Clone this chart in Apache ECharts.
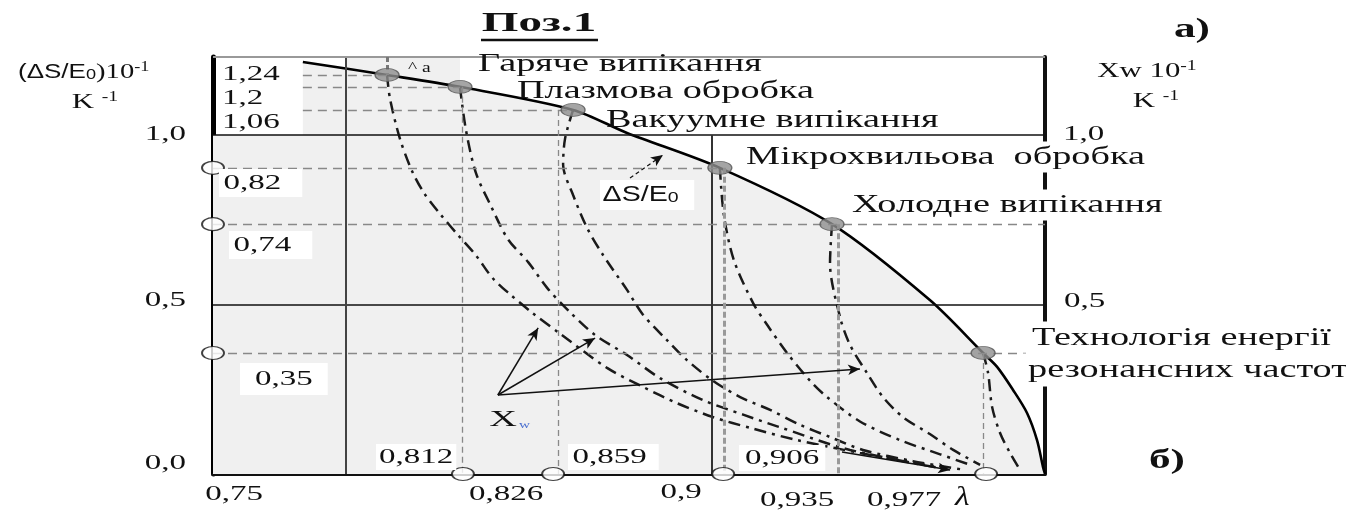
<!DOCTYPE html>
<html>
<head>
<meta charset="utf-8">
<script src="https://cdn.jsdelivr.net/npm/echarts@6.0.0/dist/echarts.min.js"></script>
<style>
  html, body { margin: 0; padding: 0; background: #fff; }
  #chart { width: 1346px; height: 513px; }
</style>
</head>
<body>
<div id="chart"></div>
<script>
// technologies and their points on the ΔS/E0 curve
const processNames = ['Гаряче випікання', 'Плазмова обробка', 'Вакуумне випікання',
  'Мікрохвильова  обробка', 'Холодне випікання', 'Технологія енергії', 'резонансних частот'];
const processLambda = [0.8023, 0.8242, 0.8582, 0.9023, 0.9360, 0.9814];
const processDS = [1.177, 1.142, 1.074, 0.903, 0.737, 0.357];
const processDSLabels = ['1,24', '1,2', '1,06', '0,82', '0,74', '0,35'];

// projections down to the λ axis and the circles on it
const projLambda = [0.8248, 0.8537, 0.9035, 0.9378, 0.9814];
const axisCircleLambda = [0.8251, 0.8522, 0.9033, 0.9823];
const lambdaInnerLabels = ['0,812', '0,859', '0,906'];
const lambdaAxisLabels = ['0,75', '0,826', '0,9', '0,935', '0,977'];
const leftAxisLabels = ['1,0', '0,5', '0,0'];
const rightAxisLabels = ['1,0', '0,5'];

// ΔS/E0 curve
const dsLambda = [0.7770, 0.8023, 0.8242, 0.8582, 0.8744, 0.9023, 0.9360, 0.9654, 0.9814, 0.9856, 0.9904, 0.9946, 0.9976, 0.9994, 1.0];
const dsValue  = [1.215, 1.177, 1.142, 1.074, 1.006, 0.903, 0.737, 0.513, 0.357, 0.316, 0.248, 0.180, 0.100, 0.021, 0.0];

// Xw curves from every technology point
const xwHot = [[0.8023, 1.177], [0.8032, 1.106], [0.8062, 0.988], [0.8098, 0.894], [0.8134, 0.829],
  [0.8185, 0.764], [0.8236, 0.705], [0.8290, 0.645], [0.8340, 0.578], [0.8395, 0.528], [0.8460, 0.475],
  [0.8540, 0.416], [0.8684, 0.313], [0.8792, 0.257], [0.8894, 0.209], [0.9002, 0.168], [0.9114, 0.136],
  [0.9255, 0.100], [0.9444, 0.062], [0.9694, 0.018]];
const xwPlasma = [[0.8242, 1.142], [0.8260, 1.015], [0.8290, 0.888], [0.8335, 0.791], [0.8386, 0.693],
  [0.8447, 0.625], [0.8504, 0.549], [0.8570, 0.480], [0.8648, 0.410], [0.8744, 0.351], [0.8843, 0.283],
  [0.8972, 0.218], [0.9093, 0.175], [0.9200, 0.139], [0.9414, 0.071], [0.9715, 0.012]];
const xwVacuum = [[0.8582, 1.074], [0.8558, 0.990], [0.8552, 0.912], [0.8582, 0.823], [0.8624, 0.726],
  [0.8672, 0.646], [0.8744, 0.543], [0.8792, 0.470], [0.8864, 0.395], [0.8924, 0.336], [0.9002, 0.275],
  [0.9084, 0.227], [0.9174, 0.189], [0.9264, 0.145], [0.9354, 0.109], [0.9453, 0.071], [0.9603, 0.038],
  [0.9760, 0.012]];
const xwMicro = [[0.9023, 0.903], [0.9035, 0.764], [0.9065, 0.631], [0.9123, 0.504], [0.9165, 0.440],
  [0.9225, 0.357], [0.9294, 0.275], [0.9345, 0.227], [0.9444, 0.155], [0.9564, 0.100], [0.9685, 0.058],
  [0.9775, 0.027]];
const xwCold = [[0.9360, 0.737], [0.9354, 0.622], [0.9384, 0.463], [0.9414, 0.381], [0.9465, 0.298],
  [0.9513, 0.227], [0.9573, 0.168], [0.9654, 0.118], [0.9724, 0.071], [0.9805, 0.027]];
const xwTech = [[0.9814, 0.357], [0.9829, 0.298], [0.9841, 0.198], [0.9865, 0.121], [0.9895, 0.062], [0.9925, 0.012]];

// annotation arrows [from, to]
const xwArrowFrom = [0.8356, 0.233];
const xwArrowTips = [[0.8477, 0.431], [0.8648, 0.401]];
const xwArrowKink = [0.8984, 0.277];
const xwArrowLongTip = [0.9444, 0.310];
const dsArrow = [[0.8753, 0.873], [0.8852, 0.941]];
const coldArrow = [[0.9390, 0.065], [0.9715, 0.012]];

const X_MIN = 0.75, X_MAX = 1.0, Y_MAX = 1.23;
const SERIF = '"Liberation Serif", "Times New Roman", serif';
const SANS = '"Liberation Sans", Arial, sans-serif';

const chart = echarts.init(document.getElementById('chart'));

const seg = (a, b, style, arrow) => [
  { coord: a, symbol: 'none' },
  { coord: b, symbol: arrow ? 'arrow' : 'none', symbolSize: arrow ? [8, 12] : 0, lineStyle: style }
];

const solid = { color: '#111', width: 1.5, type: 'solid' };
const levelDash = { color: '#888', width: 1.3, type: [9, 6] };
const projDash = { color: '#888', width: 1.3, type: [6, 4] };
const arrowStyle = { color: '#111', width: 1.5, type: 'solid' };

const refLines = [
  seg([X_MIN, 1.0], [X_MAX, 1.0], solid),
  seg([X_MIN, 0.5], [X_MAX, 0.5], solid),
  seg([0.79, 0], [0.79, Y_MAX], { color: '#444', width: 2, type: 'solid' }),
  seg([0.9, 0], [0.9, 1.0], { color: '#333', width: 2, type: 'solid' }),
  seg([X_MIN, Y_MAX], [X_MAX, Y_MAX], { color: '#999', width: 2, type: 'solid' })
];
// horizontal level lines
processDS.forEach((v, i) => {
  const start = i < 3 ? dsLambda[0] : X_MIN;
  const end = (i === 4 || i === 5) ? X_MAX : processLambda[i];
  refLines.push(seg([start, v], [end, v], levelDash));
});
// vertical projections
projLambda.forEach((x, i) => {
  const style = (i === 2 || i === 3) ? { color: '#999', width: 3, type: [6, 3] } : projDash;
  refLines.push(seg([x, processDS[i + 1]], [x, 0], style));
});
refLines.push(seg([processLambda[0], Y_MAX], [processLambda[0], processDS[0]], { color: '#777', width: 3, type: [5, 3] }));
// arrows
xwArrowTips.forEach(t => refLines.push(seg(xwArrowFrom, t, arrowStyle, true)));
refLines.push(seg(xwArrowFrom, xwArrowKink, arrowStyle));
refLines.push(seg(xwArrowKink, xwArrowLongTip, arrowStyle, true));
refLines.push(seg(dsArrow[0], dsArrow[1], { color: '#111', width: 1.2, type: [4, 3] }, true));
refLines.push(seg(coldArrow[0], coldArrow[1], arrowStyle, true));

const dsData = dsLambda.map((x, i) => [x, dsValue[i]]);
const xwStyle = { color: '#1a1a1a', width: 2.5, type: [12, 6, 3, 6] };
const xwSeries = [xwHot, xwPlasma, xwVacuum, xwMicro, xwCold, xwTech].map(d => ({
  type: 'line', data: d, smooth: 0.3, symbol: 'none', silent: true, z: 3,
  lineStyle: xwStyle
}));

chart.setOption({
  animation: false,
  backgroundColor: '#fff',
  grid: { left: 213, right: 301, top: 57, bottom: 39 },
  xAxis: {
    type: 'value', min: X_MIN, max: X_MAX,
    axisLine: { onZero: false, lineStyle: { color: '#111', width: 3 } },
    axisTick: { show: false }, axisLabel: { show: false }, splitLine: { show: false }
  },
  yAxis: [
    {
      type: 'value', min: 0, max: Y_MAX, position: 'left',
      axisLine: { show: true, onZero: false, lineStyle: { color: '#000', width: 5 } },
      axisTick: { show: false }, axisLabel: { show: false }, splitLine: { show: false }
    },
    {
      type: 'value', min: 0, max: Y_MAX, position: 'right',
      axisLine: { show: true, onZero: false, lineStyle: { color: '#111', width: 4 } },
      axisTick: { show: false }, axisLabel: { show: false }, splitLine: { show: false }
    }
  ],
  series: [
    {
      // light fill left of the curve start
      type: 'line', data: [[X_MIN, 1.0], [0.79, 1.0], [0.79, Y_MAX], [processLambda[1], Y_MAX]],
      symbol: 'none', silent: true, z: 1, lineStyle: { width: 0 },
      areaStyle: { color: '#f0f0f0', opacity: 1 }
    },
    {
      type: 'line', data: dsData, smooth: 0.3, symbol: 'none', silent: true, z: 1,
      lineStyle: { width: 0 }, areaStyle: { color: '#f0f0f0', opacity: 1 }
    },
    {
      type: 'line', data: [[X_MIN, 0]], symbol: 'none', silent: true, z: 2,
      lineStyle: { width: 0 },
      markLine: { silent: true, symbol: 'none', label: { show: false }, animation: false, data: refLines }
    },
    ...xwSeries,
    {
      name: 'ΔS/E0', type: 'line', data: dsData, smooth: 0.3, symbol: 'none', silent: true, z: 4,
      lineStyle: { color: '#000', width: 2.6 }
    },
    {
      type: 'scatter', data: processLambda.map((x, i) => [x, processDS[i]]), z: 5, silent: true,
      symbol: 'circle', symbolSize: [24, 13], clip: false,
      itemStyle: { color: '#8e8e8e', borderColor: '#555', borderWidth: 1 }
    },
    {
      type: 'scatter', z: 6, silent: true, clip: false, symbol: 'circle', symbolSize: [22, 13],
      data: processDS.slice(3).map(v => [X_MIN, v]).concat(axisCircleLambda.map(x => [x, 0])),
      itemStyle: { color: '#fff', borderColor: '#111', borderWidth: 1.5 }
    }
  ]
});

// text layer
function txt(text, x, y, size, o) {
  o = o || {};
  return {
    type: 'text', x: x, y: y, z: 100, scaleX: o.sx || 1.5, silent: true,
    style: {
      text: text, fontSize: size, fontFamily: o.family || SERIF, fontWeight: o.weight || 'normal',
      fontStyle: o.italic ? 'italic' : 'normal',
      fill: o.color || '#111', align: o.align || 'left', verticalAlign: 'middle',
      textAlign: o.align || 'left', textVerticalAlign: 'middle',
      backgroundColor: o.bg, padding: o.pad
    }
  };
}

const NAME = 25, NSX = 1.53, NUM = 22, USX = 1.5;
const graphics = [
  txt('Поз.1', 539, 24, 28, { weight: 'bold', align: 'center', sx: 1.68 }),
  { type: 'line', z: 100, silent: true, shape: { x1: 481, y1: 40, x2: 598, y2: 40 }, style: { stroke: '#111', lineWidth: 2.5 } },
  txt('а)', 1192, 30, 27, { weight: 'bold', align: 'center', sx: 1.6 }),
  txt('б)', 1167, 461, 27, { weight: 'bold', align: 'center', sx: 1.6 }),

  txt(processNames[0], 478, 64, NAME, { sx: NSX }),
  txt(processNames[1], 517, 91, NAME, { sx: NSX }),
  txt(processNames[2], 606, 120, NAME, { sx: NSX }),
  txt(processNames[3], 740, 157, NAME, { sx: NSX, bg: '#fff', pad: [3, 4, 3, 4] }),
  txt(processNames[4], 846, 205, NAME, { sx: NSX, bg: '#fff', pad: [3, 4, 3, 4] }),
  txt(processNames[5], 1026, 338, NAME, { sx: NSX, bg: '#fff', pad: [4, 4, 4, 4] }),
  txt(processNames[6], 1022, 370, NAME, { sx: NSX, bg: '#fff', pad: [2, 4, 6, 4] }),

  txt(processDSLabels[0], 222, 74, NUM, { sx: USX }),
  txt(processDSLabels[1], 222, 98, NUM, { sx: USX }),
  txt(processDSLabels[2], 222, 122, NUM, { sx: USX }),
  txt(processDSLabels[3], 219, 183, NUM, { sx: USX, bg: '#fff', pad: [3, 14, 3, 3] }),
  txt(processDSLabels[4], 229, 245, NUM, { sx: USX, bg: '#fff', pad: [3, 14, 3, 3] }),
  txt(processDSLabels[5], 240, 379, NUM, { sx: USX, bg: '#fff', pad: [5, 10, 5, 10] }),

  txt(lambdaInnerLabels[0], 376, 457, NUM, { sx: USX, bg: '#fff', pad: [2, 2, 2, 2] }),
  txt(lambdaInnerLabels[1], 568, 457, NUM, { sx: USX, bg: '#fff', pad: [2, 8, 2, 3] }),
  txt(lambdaInnerLabels[2], 739, 458, NUM, { sx: USX, bg: '#fff', pad: [2, 4, 2, 4] }),

  txt(lambdaAxisLabels[0], 234, 494, NUM, { sx: USX, align: 'center' }),
  txt(lambdaAxisLabels[1], 506, 494, NUM, { sx: USX, align: 'center' }),
  txt(lambdaAxisLabels[2], 681, 492, NUM, { sx: USX, align: 'center' }),
  txt(lambdaAxisLabels[3], 797, 500, NUM, { sx: USX, align: 'center' }),
  txt(lambdaAxisLabels[4], 904, 500, NUM, { sx: USX, align: 'center' }),
  txt('λ', 955, 498, 28, { italic: true, sx: 1.2 }),

  txt(leftAxisLabels[0], 186, 134, NUM, { sx: USX, align: 'right' }),
  txt(leftAxisLabels[1], 186, 300, NUM, { sx: USX, align: 'right' }),
  txt(leftAxisLabels[2], 186, 463, NUM, { sx: USX, align: 'right' }),
  txt(rightAxisLabels[0], 1063, 134, NUM, { sx: USX }),
  txt(rightAxisLabels[1], 1064, 301, NUM, { sx: USX }),

  {
    type: 'text', x: 18, y: 72, z: 100, scaleX: 1.3, silent: true,
    style: {
      text: '{s|(ΔS/E}{sub|0}{n|)10}{sup|-1}', align: 'left', verticalAlign: 'middle',
      rich: {
        s: { fontFamily: SANS, fontSize: 20, fill: '#111' },
        sub: { fontFamily: SANS, fontSize: 14, fill: '#111', padding: [6, 0, 0, 0] },
        n: { fontFamily: SERIF, fontSize: 22, fill: '#111' },
        sup: { fontFamily: SERIF, fontSize: 14, fill: '#111', padding: [0, 0, 10, 0] }
      }
    }
  },
  {
    type: 'text', x: 95, y: 102, z: 100, scaleX: 1.4, silent: true,
    style: {
      text: '{n|K }{sup|-1}', align: 'center', verticalAlign: 'middle',
      rich: {
        n: { fontFamily: SERIF, fontSize: 22, fill: '#111' },
        sup: { fontFamily: SERIF, fontSize: 14, fill: '#111', padding: [0, 0, 10, 0] }
      }
    }
  },
  {
    type: 'text', x: 1147, y: 71, z: 100, scaleX: 1.4, silent: true,
    style: {
      text: '{n|Xw 10}{sup|-1}', align: 'center', verticalAlign: 'middle',
      rich: {
        n: { fontFamily: SERIF, fontSize: 22, fill: '#111' },
        sup: { fontFamily: SERIF, fontSize: 14, fill: '#111', padding: [0, 0, 10, 0] }
      }
    }
  },
  {
    type: 'text', x: 1156, y: 101, z: 100, scaleX: 1.4, silent: true,
    style: {
      text: '{n|K }{sup|-1}', align: 'center', verticalAlign: 'middle',
      rich: {
        n: { fontFamily: SERIF, fontSize: 22, fill: '#111' },
        sup: { fontFamily: SERIF, fontSize: 14, fill: '#111', padding: [0, 0, 10, 0] }
      }
    }
  },
  {
    type: 'text', x: 600, y: 195, z: 100, scaleX: 1.3, silent: true,
    style: {
      text: '{s|ΔS/E}{sub|0}', align: 'left', verticalAlign: 'middle',
      backgroundColor: '#fff', padding: [4, 12, 4, 2],
      rich: {
        s: { fontFamily: SANS, fontSize: 22, fill: '#111' },
        sub: { fontFamily: SANS, fontSize: 15, fill: '#111', padding: [6, 0, 0, 0] }
      }
    }
  },
  txt('X', 503, 420, 24, { align: 'center', sx: 1.6 }),
  txt('w', 519, 425, 11, { color: '#4a6fd0', sx: 1.4 }),
  txt('^ a', 408, 68, 15, { sx: 1.3 })
];

chart.setOption({ graphic: graphics });
</script>
</body>
</html>
